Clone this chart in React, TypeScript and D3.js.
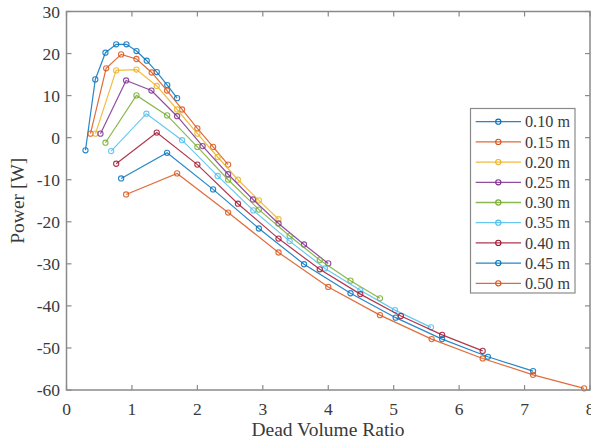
import React from "react";
import * as d3 from "d3";

const seriesLabels = ["0.10 m", "0.15 m", "0.20 m", "0.25 m", "0.30 m", "0.35 m", "0.40 m", "0.45 m", "0.50 m"];
const seriesColors = ["#0072BD", "#D95319", "#EDB120", "#7E2F8E", "#77AC30", "#4DBEEE", "#A2142F", "#0072BD", "#D95319"];

const x010 = [0.29, 0.44, 0.595, 0.76, 0.916, 1.07, 1.226, 1.38, 1.54, 1.69];
const y010 = [-3.0, 13.85, 20.2, 22.2, 22.2, 20.6, 18.3, 15.6, 12.5, 9.4];
const x015 = [0.366, 0.606, 0.835, 1.069, 1.302, 1.537, 1.766, 2.0, 2.24, 2.47];
const y015 = [0.95, 16.5, 19.8, 18.7, 15.5, 11.2, 6.7, 2.2, -2.2, -6.4];
const x020 = [0.443, 0.759, 1.069, 1.379, 1.69, 2.0, 2.31, 2.62, 2.94, 3.24];
const y020 = [0.95, 16.0, 16.2, 12.3, 6.7, 0.95, -4.6, -10.0, -14.9, -19.4];
const x025 = [0.519, 0.911, 1.298, 1.69, 2.08, 2.47, 2.85, 3.24, 3.63, 4.0];
const y025 = [0.95, 13.6, 11.2, 5.1, -2.0, -8.7, -14.7, -20.4, -25.4, -29.9];
const x030 = [0.595, 1.069, 1.537, 2.0, 2.47, 2.94, 3.41, 3.87, 4.34, 4.79];
const y030 = [-1.2, 10.05, 5.3, -2.2, -10.0, -17.1, -23.4, -29.1, -34.0, -38.2];
const x035 = [0.682, 1.221, 1.766, 2.31, 2.855, 3.41, 3.95, 4.49, 5.02, 5.57];
const y035 = [-3.2, 5.7, -0.6, -9.1, -17.3, -24.6, -31.1, -36.3, -41.0, -45.1];
const x040 = [0.759, 1.379, 2.0, 2.62, 3.24, 3.87, 4.49, 5.11, 5.74, 6.36];
const y040 = [-6.2, 1.2, -6.4, -15.7, -24.0, -31.3, -37.2, -42.4, -46.9, -50.7];
const x045 = [0.835, 1.537, 2.24, 2.94, 3.63, 4.34, 5.03, 5.74, 6.44, 7.13];
const y045 = [-9.7, -3.6, -12.3, -21.6, -30.1, -37.0, -42.8, -47.9, -52.1, -55.5];
const x050 = [0.911, 1.69, 2.47, 3.24, 4.0, 4.79, 5.58, 6.36, 7.13, 7.91];
const y050 = [-13.5, -8.5, -17.8, -27.3, -35.5, -42.2, -47.9, -52.5, -56.4, -59.6];

const seriesX = [x010, x015, x020, x025, x030, x035, x040, x045, x050];
const seriesY = [y010, y015, y020, y025, y030, y035, y040, y045, y050];

const xTicks = [0, 1, 2, 3, 4, 5, 6, 7, 8];
const yTicks = [30, 20, 10, 0, -10, -20, -30, -40, -50, -60];

const W = 591, H = 445;
const L = 66.5, R = 590, T = 11.5, B = 390;
const FONT = "'Liberation Serif', 'Times New Roman', serif";
const AX = "#8a8a8a";
const TXT = "#3a3a3a";

export default function App() {
  const x = d3.scaleLinear().domain([0, 8]).range([L, R]);
  const y = d3.scaleLinear().domain([-60, 30]).range([B, T]);
  const line = d3.line<number>();
  const tl = 5;

  const legX = 470.5, legY = 108.5, legW = 104.5, legH = 184.5;
  const rowH = 20.2;

  return (
    <svg width={W} height={H} style={{ position: "absolute", left: 0, top: 0, background: "#fff" }} fontFamily={FONT}>
      <rect x={0} y={0} width={W} height={H} fill="#fff" />
      {/* series */}
      {seriesX.map((xs, i) => {
        const pts = xs.map((xv, j) => [x(xv), y(seriesY[i][j])] as [number, number]);
        return (
          <g key={i}>
            <path d={d3.line()(pts) || ""} fill="none" stroke={seriesColors[i]} strokeWidth={1.2} opacity={0.85} />
            {pts.map((p, j) => (
              <circle key={j} cx={p[0]} cy={p[1]} r={2.6} fill="none" stroke={seriesColors[i]} strokeWidth={1.1} opacity={0.85} />
            ))}
          </g>
        );
      })}
      {/* axes box */}
      <rect x={L} y={T} width={R - L} height={B - T} fill="none" stroke={AX} strokeWidth={1.5} />
      {xTicks.map((t) => (
        <g key={"xt" + t}>
          <line x1={x(t)} x2={x(t)} y1={B} y2={B - tl} stroke={AX} strokeWidth={1.2} />
          <line x1={x(t)} x2={x(t)} y1={T} y2={T + tl} stroke={AX} strokeWidth={1.2} />
          <text x={x(t)} y={415} textAnchor="middle" fontSize={17.5} fill={TXT}>{t}</text>
        </g>
      ))}
      {yTicks.map((t) => (
        <g key={"yt" + t}>
          <line x1={L} x2={L + tl} y1={y(t)} y2={y(t)} stroke={AX} strokeWidth={1.2} />
          <line x1={R} x2={R - tl} y1={y(t)} y2={y(t)} stroke={AX} strokeWidth={1.2} />
          <text x={60} y={y(t)} dy="0.35em" textAnchor="end" fontSize={17.5} fill={TXT}>{t}</text>
        </g>
      ))}
      <text x={328} y={436} textAnchor="middle" fontSize={19.5} fill={TXT}>Dead Volume Ratio</text>
      <text transform={`translate(24, ${(T + B) / 2}) rotate(-90)`} textAnchor="middle" fontSize={19.5} fill={TXT}>Power [W]</text>
      {/* legend */}
      <rect x={legX} y={legY} width={legW} height={legH} fill="#fff" stroke={AX} strokeWidth={1.2} />
      {seriesLabels.map((lab, i) => {
        const cy = 121.7 + i * rowH;
        return (
          <g key={"lg" + i}>
            <line x1={475.7} x2={521} y1={cy} y2={cy} stroke={seriesColors[i]} strokeWidth={1.3} opacity={0.85} />
            <circle cx={498.3} cy={cy} r={2.6} fill="none" stroke={seriesColors[i]} strokeWidth={1.1} />
            <text x={525} y={cy} dy="0.35em" fontSize={16.2} fill={TXT}>{lab}</text>
          </g>
        );
      })}
    </svg>
  );
}
